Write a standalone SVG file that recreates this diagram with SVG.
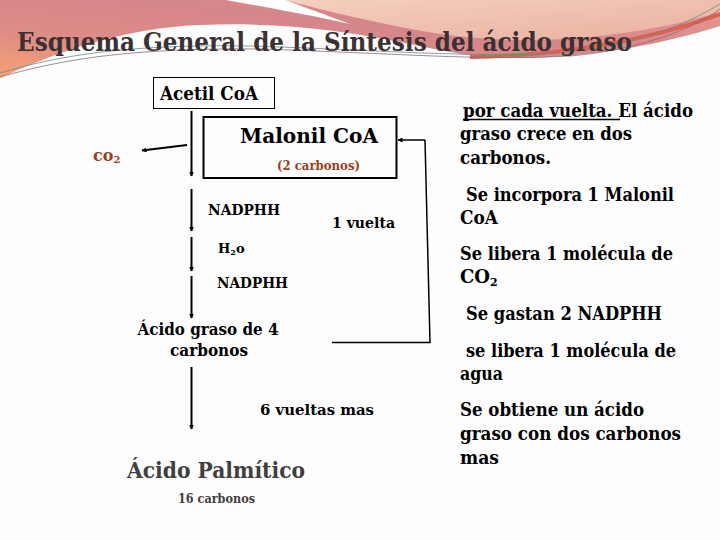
<svg xmlns="http://www.w3.org/2000/svg" width="720" height="540" viewBox="0 0 720 540">
<defs>
<linearGradient id="hdr" x1="0" y1="1" x2="1" y2="0">
<stop offset="0" stop-color="#f6a274"/>
<stop offset="0.3" stop-color="#de8c86"/>
<stop offset="0.6" stop-color="#d5868a"/>
<stop offset="1" stop-color="#e59a92"/>
</linearGradient>
<linearGradient id="peach" x1="0" y1="0" x2="1" y2="1">
<stop offset="0" stop-color="#f4d0bf"/>
<stop offset="1" stop-color="#eab0a0"/>
</linearGradient>
<marker id="ah" viewBox="0 0 10 10" refX="9" refY="5" markerWidth="5" markerHeight="5" orient="auto" markerUnits="userSpaceOnUse">
<path d="M0,0 L10,5 L0,10 Z" fill="#000"/>
</marker>
</defs>
<style>
text{font-family:"DejaVu Serif",serif}
.t{font-weight:bold;fill:#000}
.br{fill:#9c3d1c}
.gr{fill:#404040}
.ln{stroke:#000;stroke-width:2;fill:none}
.arr{stroke:#000;stroke-width:2;fill:none;marker-end:url(#ah)}
.box{fill:none;stroke:#000}
</style>
<rect width="720" height="540" fill="#fdfdfd"/>
<path d="M0,0 H720 V26 C670,42 600,57 520,58 C470,58 440,50 400,42 C340,30 280,22 200,25 C120,28 50,55 0,78 Z" fill="url(#hdr)"/>
<path d="M285,0 C330,12 380,24 440,34 C540,48 640,36 720,12 V0 Z" fill="url(#peach)"/>
<path d="M226,0 C265,7 305,14 350,24 C318,12 298,5 286,0 Z" fill="#ffffff"/>
<path d="M470,57 C560,56 650,40 720,14" stroke="#e0604e" stroke-width="4" fill="none"/>
<path d="M0,73 C60,55 130,44 250,46 C380,50 470,58 560,53 C640,46 690,22 720,4" stroke="#6b8a96" stroke-width="0.8" fill="none"/>
<path d="M0,77 C70,57 140,48 260,49 C390,53 480,61 570,56 C650,49 700,24 720,9" stroke="#8a6c7c" stroke-width="0.8" fill="none"/>
<text class="t" x="17" y="51" font-size="26" style="fill:#3a3232" textLength="615" lengthAdjust="spacingAndGlyphs">Esquema General de la Síntesis del ácido graso</text>

<g id="connectors">
<line class="arr" x1="191.5" y1="111" x2="191.5" y2="176"/>
<line class="arr" x1="187" y1="145" x2="142" y2="150.5"/>
<line class="arr" x1="191.5" y1="189" x2="191.5" y2="231"/>
<line class="arr" x1="191.5" y1="237" x2="191.5" y2="271"/>
<line class="arr" x1="191.5" y1="276" x2="191.5" y2="318"/>
<line class="arr" x1="191.5" y1="367" x2="191.5" y2="429"/>
<polyline class="ln" points="332,342.5 430,342.5 425,140" style="stroke-width:1.5"/>
<line class="arr" x1="425" y1="140" x2="398" y2="140" style="stroke-width:1.5"/>
</g>

<g id="acetil">
<rect class="box" x="153.5" y="77.5" width="121" height="31" stroke-width="1"/>
<text class="t" x="160" y="100" font-size="18" textLength="98" lengthAdjust="spacingAndGlyphs">Acetil CoA</text>
</g>
<g id="malonil">
<rect class="box" x="203.5" y="117" width="193" height="61" stroke-width="2"/>
<text class="t" x="240" y="143" font-size="21" textLength="138" lengthAdjust="spacingAndGlyphs">Malonil CoA</text>
<text class="t br" x="277" y="170" font-size="12" textLength="83" lengthAdjust="spacingAndGlyphs">(2 carbonos)</text>
</g>
<g id="co2">
<text class="t br" x="93" y="161" font-size="16">co<tspan font-size="10" dy="2">2</tspan></text>
</g>
<g id="nadphh1"><text class="t" x="208" y="215" font-size="15" textLength="72" lengthAdjust="spacingAndGlyphs">NADPHH</text></g>
<g id="vuelta"><text class="t" x="332" y="228" font-size="15" textLength="63" lengthAdjust="spacingAndGlyphs">1 vuelta</text></g>
<g id="h2o"><text class="t" x="218" y="253" font-size="13">H<tspan font-size="8" dy="2">2</tspan><tspan dy="-2">o</tspan></text></g>
<g id="nadphh2"><text class="t" x="217" y="288" font-size="15" textLength="71" lengthAdjust="spacingAndGlyphs">NADPHH</text></g>
<g id="acido4">
<text class="t" x="208" y="335" font-size="16" text-anchor="middle" textLength="141" lengthAdjust="spacingAndGlyphs">Ácido graso de 4</text>
<text class="t" x="209" y="356" font-size="16" text-anchor="middle" textLength="78" lengthAdjust="spacingAndGlyphs">carbonos</text>
</g>
<g id="seis"><text class="t" x="260" y="415" font-size="15" textLength="114" lengthAdjust="spacingAndGlyphs">6 vueltas mas</text></g>
<g id="palmitico">
<text class="t gr" x="127" y="478" font-size="23" textLength="178" lengthAdjust="spacingAndGlyphs">Ácido Palmítico</text>
<text class="t gr" x="178" y="503" font-size="12" textLength="77" lengthAdjust="spacingAndGlyphs">16 carbonos</text>
</g>

<g id="notes" class="t" font-size="18">
<text x="463" y="117" textLength="230" lengthAdjust="spacingAndGlyphs">por cada vuelta. El ácido</text>
<line x1="463" y1="119.5" x2="620" y2="119.5" stroke="#000" stroke-width="1.5"/>
<text x="460" y="140" textLength="172" lengthAdjust="spacingAndGlyphs">graso crece en dos</text>
<text x="460" y="164" textLength="91" lengthAdjust="spacingAndGlyphs">carbonos.</text>
<text x="466" y="201" textLength="208" lengthAdjust="spacingAndGlyphs">Se incorpora 1 Malonil</text>
<text x="460" y="224" textLength="38" lengthAdjust="spacingAndGlyphs">CoA</text>
<text x="460" y="260" textLength="213" lengthAdjust="spacingAndGlyphs">Se libera 1 molécula de</text>
<text x="460" y="283">CO<tspan font-size="11" dy="3">2</tspan></text>
<text x="466" y="320" textLength="196" lengthAdjust="spacingAndGlyphs">Se gastan 2 NADPHH</text>
<text x="466" y="357" textLength="210" lengthAdjust="spacingAndGlyphs">se libera 1 molécula de</text>
<text x="460" y="380" textLength="43" lengthAdjust="spacingAndGlyphs">agua</text>
<text x="460" y="416" textLength="184" lengthAdjust="spacingAndGlyphs">Se obtiene un ácido</text>
<text x="460" y="440" textLength="221" lengthAdjust="spacingAndGlyphs">graso con dos carbonos</text>
<text x="460" y="464" textLength="39" lengthAdjust="spacingAndGlyphs">mas</text>
</g>
</svg>
